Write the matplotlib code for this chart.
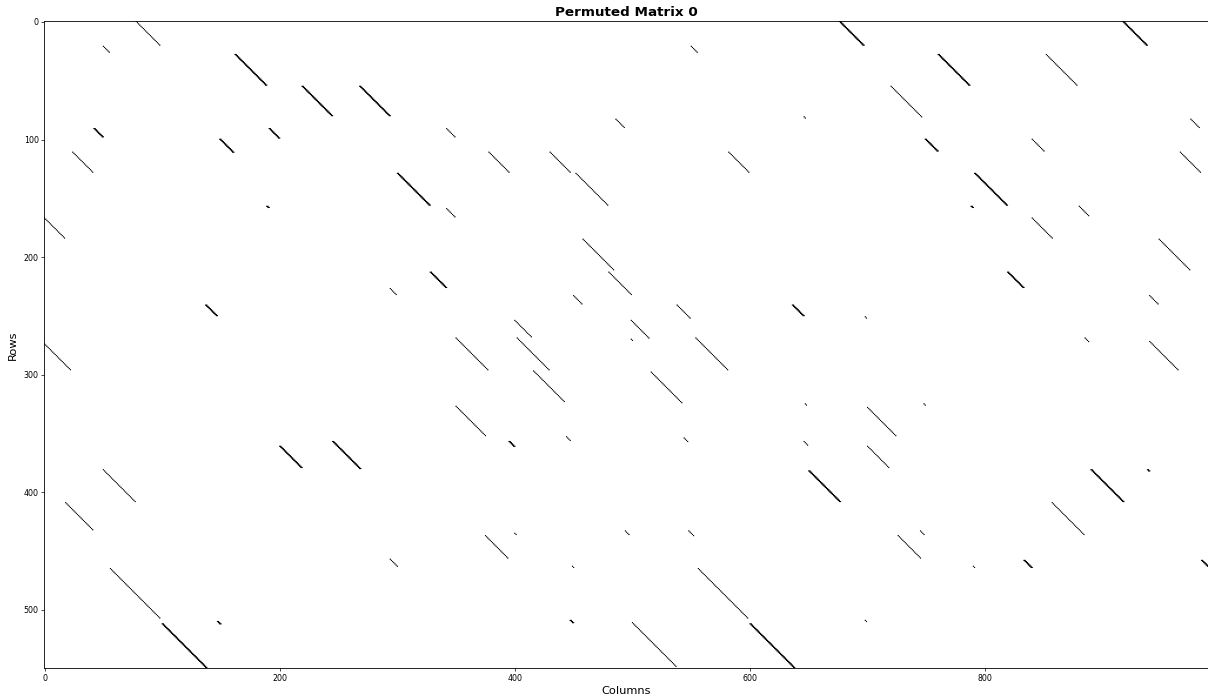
import matplotlib
matplotlib.use("Agg")
import matplotlib.pyplot as plt
import numpy as np

n_rows, n_cols = 550, 990

# diagonal segments of ones: start row, start column, length, band width
seg_row = [0, 0, 0, 21, 21, 28, 28, 28, 55, 55, 55, 81, 83, 83, 91, 91, 91,
           100, 100, 100, 111, 111, 111, 111, 111, 129, 129, 129, 157, 157,
           157, 159, 167, 167, 185, 185, 213, 213, 213, 227, 233, 233, 241,
           241, 241, 251, 254, 254, 269, 269, 269, 269, 270, 272, 274, 297,
           298, 325, 325, 327, 328, 353, 354, 357, 357, 357, 361, 361, 381,
           381, 381, 382, 409, 409, 433, 433, 433, 435, 437, 437, 457, 458,
           458, 463, 463, 465, 465, 509, 509, 510, 511, 512, 512]
seg_col = [78, 676, 917, 50, 550, 162, 760, 852, 219, 268, 720, 646, 486, 975,
           42, 191, 342, 149, 749, 840, 24, 378, 430, 582, 966, 300, 452, 791,
           189, 788, 880, 342, 0, 840, 458, 948, 328, 480, 819, 294, 450, 940,
           137, 538, 636, 698, 400, 499, 350, 402, 554, 885, 499, 940, 0, 416,
           516, 647, 748, 350, 700, 444, 544, 245, 395, 646, 200, 700, 50,
           890, 938, 650, 18, 857, 494, 548, 745, 400, 375, 726, 294, 833,
           984, 449, 790, 56, 556, 447, 698, 147, 500, 100, 600]
seg_len = [21, 21, 21, 6, 6, 27, 27, 27, 26, 26, 27, 2, 8, 8, 8, 9, 8, 12, 11,
           11, 18, 18, 18, 18, 18, 28, 28, 28, 2, 2, 9, 8, 18, 18, 27, 27, 14,
           20, 14, 6, 8, 8, 10, 12, 10, 2, 15, 16, 28, 28, 28, 4, 2, 25, 23,
           27, 27, 2, 2, 26, 25, 4, 4, 24, 5, 4, 19, 19, 28, 28, 2, 27, 24, 28,
           4, 5, 4, 2, 20, 20, 7, 7, 6, 2, 2, 43, 43, 3, 2, 3, 38, 38, 38]
seg_width = [1, 2, 2, 1, 1, 2, 2, 1, 2, 2, 1, 1, 1, 1, 2, 2, 1, 2, 2, 1, 1, 1,
             1, 1, 1, 2, 1, 2, 2, 2, 1, 1, 1, 1, 1, 1, 2, 1, 2, 1, 1, 1, 2, 1,
             2, 1, 1, 1, 1, 1, 1, 1, 1, 1, 1, 1, 1, 1, 1, 1, 1, 1, 1, 2, 2, 1,
             2, 1, 1, 2, 2, 2, 1, 1, 1, 1, 1, 1, 1, 1, 1, 2, 2, 1, 1, 1, 1, 2,
             1, 2, 1, 2, 2]

matrix = np.zeros((n_rows, n_cols))
for r0, c0, length, w in zip(seg_row, seg_col, seg_len, seg_width):
    for k in range(length):
        for j in range(w):
            r, c = r0 + k, c0 + k + j
            if r < n_rows and c < n_cols:
                matrix[r, c] = 1

fig = plt.figure(figsize=(12.08, 6.99), dpi=100)
ax = fig.add_axes([44.4 / 1208, 30.8 / 699, 1163.6 / 1208, 646.8 / 699])
ax.imshow(matrix, cmap='binary', aspect='auto', vmin=0, vmax=1)

ax.set_title('Permuted Matrix 0', fontsize=9.7, fontweight='bold', pad=4)
ax.set_xlabel('Columns', fontsize=8.2, labelpad=2)
ax.set_ylabel('Rows', fontsize=8.2, labelpad=4)
ax.tick_params(labelsize=5.7, length=2, width=0.5, pad=2)
for s in ax.spines.values():
    s.set_linewidth(0.6)

fig.savefig('out.png', dpi=100)
